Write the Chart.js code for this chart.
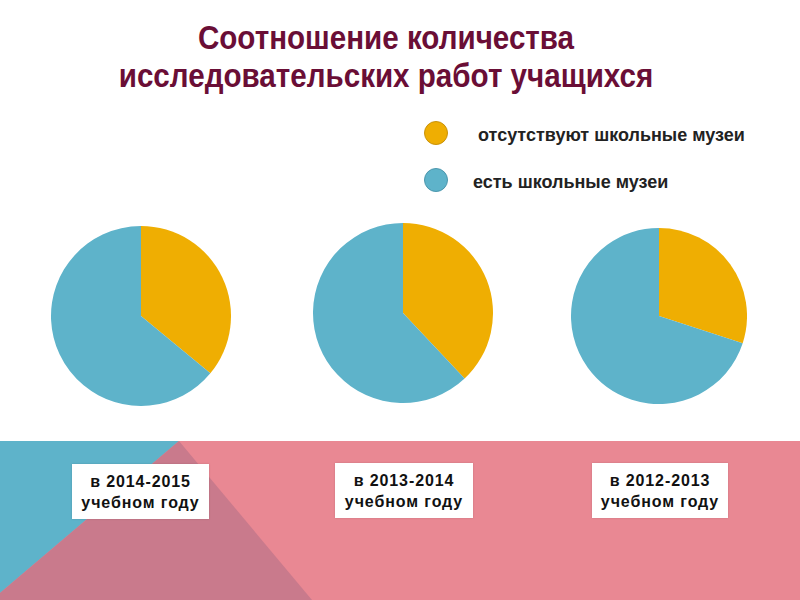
<!DOCTYPE html>
<html>
<head>
<meta charset="utf-8">
<script src="https://cdn.jsdelivr.net/npm/chart.js@4"></script>
<style>
  html, body { margin: 0; padding: 0; }
  body { width: 800px; height: 600px; position: relative; overflow: hidden; background: #fff; font-family: "Liberation Sans", Arial, sans-serif; }
  .band { position: absolute; left: 0; top: 441px; width: 800px; height: 159px; background: #E98893; }
  .bandBlue { position: absolute; left: 0; top: 441px; width: 800px; height: 159px; background: #5EB3CA; clip-path: polygon(0 0, 179px 0, 0 152px); }
  .bandDark { position: absolute; left: 0; top: 441px; width: 800px; height: 159px; background: #C97A8C; clip-path: polygon(179px 0, 312px 159px, 0 159px, 0 152px); }
  .title { position: absolute; left: 0; top: 18px; width: 772px; text-align: center; font-family: "Liberation Sans", Arial, sans-serif; font-weight: bold; font-size: 34px; line-height: 38px; color: #6A0E36; transform: scaleX(0.87); transform-origin: 386px 0; }
  .leg { position: absolute; font-family: "Liberation Sans", Arial, sans-serif; font-size: 18px; line-height: 20px; color: #222; font-weight: bold; white-space: nowrap; }
  .dot { position: absolute; width: 24px; height: 24px; border-radius: 50%; box-sizing: border-box; }
  .box { position: absolute; background: #fff; text-align: center; font-family: "Liberation Sans", Arial, sans-serif; font-weight: bold; font-size: 16px; letter-spacing: 0.9px; line-height: 21px; color: #111; box-shadow: 0 0 2px rgba(0,0,0,0.15); display: flex; align-items: center; justify-content: center; }
  canvas { position: absolute; }
</style>
</head>
<body>
<div class="band"></div>
<div class="bandBlue"></div>
<div class="bandDark"></div>
<div class="title">Соотношение количества<br>исследовательских работ учащихся</div>
<div id="legend"></div>
<div id="charts"></div>
<div id="labels"></div>
<script>
// Data
const categories = ['в 2014-2015 учебном году', 'в 2013-2014 учебном году', 'в 2012-2013 учебном году'];
const seriesNames = ['отсутствуют школьные музеи', 'есть школьные музеи'];
const noMuseum = [36, 38, 30];
const withMuseum = [64, 62, 70];
const seriesColors = ['#EFAE02', '#5EB3CA'];

// Layout (not data)
const pieBoxes = [
  { left: 51, top: 226, size: 180 },
  { left: 313, top: 223, size: 180 },
  { left: 571, top: 228, size: 176 }
];
const labelBoxes = [
  { left: 72, top: 464, w: 137, h: 55 },
  { left: 335, top: 463, w: 138, h: 55 },
  { left: 592, top: 463, w: 136, h: 55 }
];

// Legend
const legend = document.getElementById('legend');
const legendPos = [{ dx: 424, dy: 121, tx: 478, ty: 125 }, { dx: 424, dy: 168, tx: 473, ty: 172 }];
const dotBorders = ['#C9920A', '#4C97AD'];
seriesNames.forEach((name, i) => {
  const d = document.createElement('div');
  d.className = 'dot';
  d.style.left = legendPos[i].dx + 'px';
  d.style.top = legendPos[i].dy + 'px';
  d.style.background = seriesColors[i];
  d.style.border = '1.5px solid ' + dotBorders[i];
  legend.appendChild(d);
  const t = document.createElement('div');
  t.className = 'leg';
  t.style.left = legendPos[i].tx + 'px';
  t.style.top = legendPos[i].ty + 'px';
  t.textContent = name;
  legend.appendChild(t);
});

// Pies
const chartsDiv = document.getElementById('charts');
categories.forEach((cat, i) => {
  const c = document.createElement('canvas');
  const b = pieBoxes[i];
  c.width = b.size; c.height = b.size;
  c.style.left = b.left + 'px'; c.style.top = b.top + 'px';
  c.style.width = b.size + 'px'; c.style.height = b.size + 'px';
  chartsDiv.appendChild(c);
  new Chart(c, {
    type: 'pie',
    data: {
      labels: seriesNames,
      datasets: [{
        data: [noMuseum[i], withMuseum[i]],
        backgroundColor: seriesColors,
        borderWidth: 0
      }]
    },
    options: {
      responsive: false,
      animation: false,
      layout: { padding: 0 },
      plugins: { legend: { display: false }, tooltip: { enabled: false }, title: { display: false } }
    }
  });

  const lb = labelBoxes[i];
  const box = document.createElement('div');
  box.className = 'box';
  box.style.left = lb.left + 'px'; box.style.top = lb.top + 'px';
  box.style.width = lb.w + 'px'; box.style.height = lb.h + 'px';
  const parts = cat.split(' ');
  box.innerHTML = '<div>' + parts.slice(0, 2).join(' ') + '<br>' + parts.slice(2).join(' ') + '</div>';
  document.getElementById('labels').appendChild(box);
});
</script>
</body>
</html>
